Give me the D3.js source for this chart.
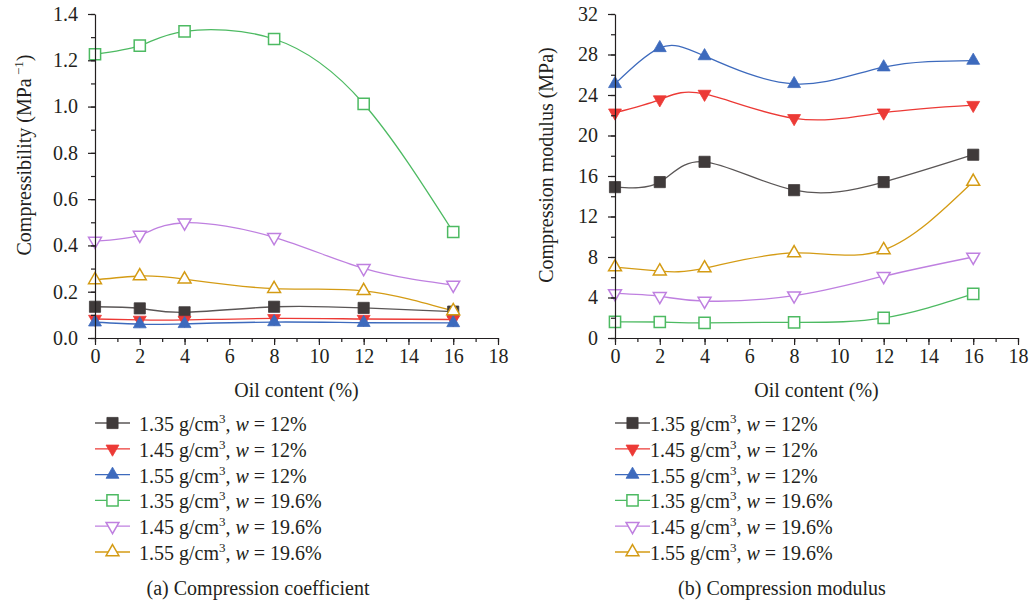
<!DOCTYPE html>
<html lang="en">
<head>
  <meta charset="UTF-8">
  <title>Compression coefficient and modulus</title>
  <style>
    body { margin: 0; background: #fff; }
    text { font-family: "Liberation Serif", "DejaVu Serif", serif; fill: #231f20; }
  </style>
</head>
<body>
  <svg id="chart" width="1032" height="608"></svg>
  <script src="https://cdn.jsdelivr.net/npm/d3@7/dist/d3.min.js"></script>
  <script>
    // oil content (%) on the x axis
    var oil = [0, 2, 4, 8, 12, 16];
    var xTicks = [0, 2, 4, 6, 8, 10, 12, 14, 16, 18];

    // legend parts
    var densities = ["1.35", "1.45", "1.55", "1.35", "1.45", "1.55"];
    var moistures = ["12%", "12%", "12%", "19.6%", "19.6%", "19.6%"];

    // (a) compressibility, MPa^-1
    var coef135w12 = [0.135, 0.128, 0.111, 0.135, 0.130, 0.114];
    var coef145w12 = [0.082, 0.078, 0.078, 0.085, 0.082, 0.080];
    var coef155w12 = [0.068, 0.060, 0.061, 0.069, 0.066, 0.065];
    var coef135w196 = [1.226, 1.263, 1.325, 1.292, 1.012, 0.458];
    var coef145w196 = [0.419, 0.445, 0.498, 0.435, 0.301, 0.229];
    var coef155w196 = [0.251, 0.268, 0.254, 0.213, 0.204, 0.117];
    var coefTicks = [0, 0.2, 0.4, 0.6, 0.8, 1.0, 1.2, 1.4];

    // (b) compression modulus, MPa
    var mod135w12 = [14.9, 15.4, 17.4, 14.6, 15.4, 18.1];
    var mod145w12 = [22.25, 23.55, 24.1, 21.7, 22.25, 23.0];
    var mod155w12 = [25.1, 28.65, 27.85, 25.1, 26.75, 27.4];
    var mod135w196 = [1.6, 1.58, 1.5, 1.55, 1.98, 4.35];
    var mod145w196 = [4.4, 4.12, 3.65, 4.18, 6.1, 8.0];
    var mod155w196 = [7.0, 6.6, 6.9, 8.4, 8.7, 15.45];
    var modTicks = [0, 4, 8, 12, 16, 20, 24, 28, 32];

    var styles = [
      { color: "#403b3b", line: "#5a5656", shape: "square", fill: true },
      { color: "#ec3a36", line: "#ec3a36", shape: "down", fill: true },
      { color: "#3d6abd", line: "#3d6abd", shape: "up", fill: true },
      { color: "#4dba62", line: "#4dba62", shape: "square", fill: false },
      { color: "#bf80e0", line: "#bf80e0", shape: "down", fill: false },
      { color: "#d49b14", line: "#d49b14", shape: "up", fill: false }
    ];

    var FS = 20;
    var svg = d3.select("#chart");

    function symbolPath(shape) {
      if (shape === "square") return d3.symbol().type(d3.symbolSquare).size(125)();
      return d3.symbol().type(d3.symbolTriangle).size(72)();
    }

    function drawMarker(g, st, x, y) {
      g.append("path")
        .attr("d", symbolPath(st.shape))
        .attr("transform", "translate(" + x + "," + y + ")" + (st.shape === "down" ? " rotate(180)" : ""))
        .attr("fill", st.fill ? st.color : "#fff")
        .attr("stroke", st.color)
        .attr("stroke-width", st.fill ? 0.8 : 1.5);
    }

    function styleText(s) {
      s.selectAll("text").attr("font-size", FS).attr("font-family", "Liberation Serif").attr("fill", "#231f20");
    }

    function drawPanel(opt) {
      var x = d3.scaleLinear().domain([0, 18]).range([opt.left, opt.left + 403]);
      var y = d3.scaleLinear().domain(opt.yDomain).range([338, 14]);
      var g = svg.append("g");

      // lines
      var line = d3.line()
        .x(function(d, i) { return x(oil[i]); })
        .y(function(d) { return y(d); })
        .curve(d3.curveNatural);

      opt.series.forEach(function(vals, k) {
        g.append("path")
          .attr("d", line(vals))
          .attr("fill", "none")
          .attr("stroke", styles[k].line)
          .attr("stroke-width", 1.3);
      });
      opt.series.forEach(function(vals, k) {
        vals.forEach(function(v, i) {
          drawMarker(g, styles[k], x(oil[i]), y(v));
        });
      });

      // axes
      var xMinor = d3.range(0, 18.01, 1);
      var yMinor = d3.range(opt.yDomain[0], opt.yDomain[1] + 1e-9, opt.yStep / 2);

      g.append("g").attr("transform", "translate(0,338)")
        .call(d3.axisBottom(x).tickValues(xMinor).tickSize(4).tickFormat(""))
        .call(function(s) { s.select(".domain").remove(); });
      g.append("g").attr("transform", "translate(0,338)")
        .call(d3.axisBottom(x).tickValues(xTicks).tickSize(7).tickSizeOuter(0).tickPadding(4))
        .call(styleText);

      g.append("g").attr("transform", "translate(" + opt.left + ",0)")
        .call(d3.axisLeft(y).tickValues(yMinor).tickSize(4).tickFormat(""))
        .call(function(s) { s.select(".domain").remove(); });
      g.append("g").attr("transform", "translate(" + opt.left + ",0)")
        .call(d3.axisLeft(y).tickValues(opt.yTicks).tickSize(7).tickSizeOuter(0).tickPadding(10).tickFormat(opt.fmt))
        .call(styleText);

      g.selectAll(".domain, .tick line").attr("stroke", "#231f20").attr("stroke-width", 1.2);

      // axis titles
      g.append("text")
        .attr("x", opt.left + 201.5).attr("y", 397)
        .attr("text-anchor", "middle").attr("font-size", FS)
        .text("Oil content (%)");

      var yt = g.append("text")
        .attr("transform", "translate(" + opt.yTitleX + "," + opt.yTitleY + ") rotate(-90)")
        .attr("text-anchor", "middle").attr("font-size", FS);
      opt.yTitle(yt);

      // legend
      var lg = g.append("g");
      styles.forEach(function(st, k) {
        var cy = 423 + k * 25.8;
        lg.append("line")
          .attr("x1", opt.legX).attr("x2", opt.legX + 35)
          .attr("y1", cy).attr("y2", cy)
          .attr("stroke", st.line).attr("stroke-width", 1.3);
        drawMarker(lg, st, opt.legX + 17.5, cy);
        var t = lg.append("text")
          .attr("x", opt.legX + opt.legGap).attr("y", cy + 8)
          .attr("font-size", FS);
        t.append("tspan").text(densities[k] + " g/cm");
        t.append("tspan").attr("font-size", 13).attr("dy", -8).text("3");
        t.append("tspan").attr("dy", 8).text(", ");
        t.append("tspan").attr("font-style", "italic").text("w");
        t.append("tspan").text(" = " + moistures[k]);
      });

      g.append("text")
        .attr("x", opt.capX).attr("y", 595)
        .attr("text-anchor", "middle").attr("font-size", FS)
        .text(opt.caption);
    }

    drawPanel({
      left: 95,
      yDomain: [0, 1.4], yStep: 0.2, yTicks: coefTicks,
      fmt: d3.format(".1f"),
      series: [coef135w12, coef145w12, coef155w12, coef135w196, coef145w196, coef155w196],
      yTitleX: 31, yTitleY: 155,
      yTitle: function(t) {
        t.append("tspan").text("Compressibility (MPa");
        t.append("tspan").attr("font-size", 13).attr("dy", -8).text(" \u22121");
        t.append("tspan").attr("dy", 8).text(")");
      },
      legX: 95, legGap: 44,
      capX: 258, caption: "(a) Compression coefficient"
    });

    drawPanel({
      left: 615,
      yDomain: [0, 32], yStep: 4, yTicks: modTicks,
      fmt: d3.format("d"),
      series: [mod135w12, mod145w12, mod155w12, mod135w196, mod145w196, mod155w196],
      yTitleX: 553, yTitleY: 165,
      yTitle: function(t) { t.text("Compression modulus (MPa)"); },
      legX: 615, legGap: 35,
      capX: 782, caption: "(b) Compression modulus"
    });
  </script>
</body>
</html>
